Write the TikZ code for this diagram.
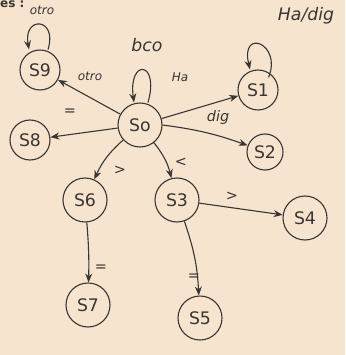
\documentclass[tikz,border=0pt]{standalone}
\usepackage{fontspec}
\setsansfont{DejaVu Sans}
\usetikzlibrary{arrows.meta}
\definecolor{paper}{HTML}{F6E4CE}
\definecolor{ink}{HTML}{3B3530}
\begin{document}
\begin{tikzpicture}[x=1pt,y=-1pt,
  state/.style={circle,draw=ink,line width=1.1pt,minimum size=40pt,inner sep=0pt,
    font=\sffamily\LARGE,text=ink},
  big/.style={minimum size=44pt},
  trans/.style={draw=ink,line width=1.1pt,-{Stealth[length=9pt,width=7pt]}},
  lbl/.style={font=\sffamily\itshape\Large,text=ink,inner sep=1pt},
  sym/.style={font=\sffamily\Large,text=ink,inner sep=1pt}]
  \fill[paper] (0,0) rectangle (345,355);
  \useasboundingbox (0,0) rectangle (345,355);
  % heading
  \node[anchor=north west,font=\sffamily\bfseries\large,text=ink,inner sep=0pt] (hd) at (0,1) {es :};
  % states
  \node[state] (s9) at (40,70) {S9};
  \node[state,big] (s0) at (140,125) {So};
  \node[state] (s1) at (258,90) {S1};
  \node[state,minimum size=36pt] (s2) at (265,152) {S2};
  \node[state] (s8) at (30,140) {S8};
  \node[state,big] (s6) at (85,200) {S6};
  \node[state,big] (s3) at (177,200) {S3};
  \node[state,big] (s4) at (305,218) {S4};
  \node[state,big] (s7) at (88,305) {S7};
  \node[state,big] (s5) at (200,318) {S5};
  % self loops
  \draw[trans] ([xshift=8pt]s9.north) .. controls +(10,-32) and +(-6,-34) .. ([xshift=-11pt]s9.north);
  \node[lbl,font=\sffamily\itshape\large] (t9) at (42,10) {otro};
  \draw[trans] ([xshift=8pt]s0.north) .. controls +(12,-42) and +(-6,-44) .. ([xshift=-6pt]s0.north);
  \node[lbl,font=\sffamily\itshape\LARGE] (t0) at (147,45) {bco};
  \draw[trans] ([xshift=-4pt,yshift=-2pt]s1.north east) .. controls +(14,-34) and +(-10,-42) .. ([xshift=-8pt]s1.north);
  \node[lbl,font=\sffamily\itshape\LARGE] (t1) at (306,16) {Ha/dig};
  % transitions out of S0
  \draw[trans] (s0) -- (s9);
  \node[lbl,font=\sffamily\itshape\large] at (90,76) {otro};
  \draw[trans] (s0) -- (s1);
  \node[lbl,font=\sffamily\itshape\large] at (180,77) {Ha};
  \draw[trans] (s0.east) to[bend left=6] (s2);
  \node[lbl] at (218,118) {dig};
  \draw[trans] (s0) -- (s8);
  \node[sym] at (70,112) {=};
  \draw[trans] (s0) to[bend right=12] (s6);
  \node[sym] at (120,170) {>};
  \draw[trans] (s0) to[bend left=12] (s3);
  \node[sym] at (181,162) {<};
  % transitions further down
  \draw[trans] (s3) -- (s4);
  \node[sym] at (232,196) {>};
  \draw[trans] (s3) to[bend left=8] (s5);
  \node[sym] at (194,277) {=};
  \draw[trans] (s6) to[bend left=3] (s7);
  \node[sym] at (101,268) {=};
\end{tikzpicture}
\end{document}
